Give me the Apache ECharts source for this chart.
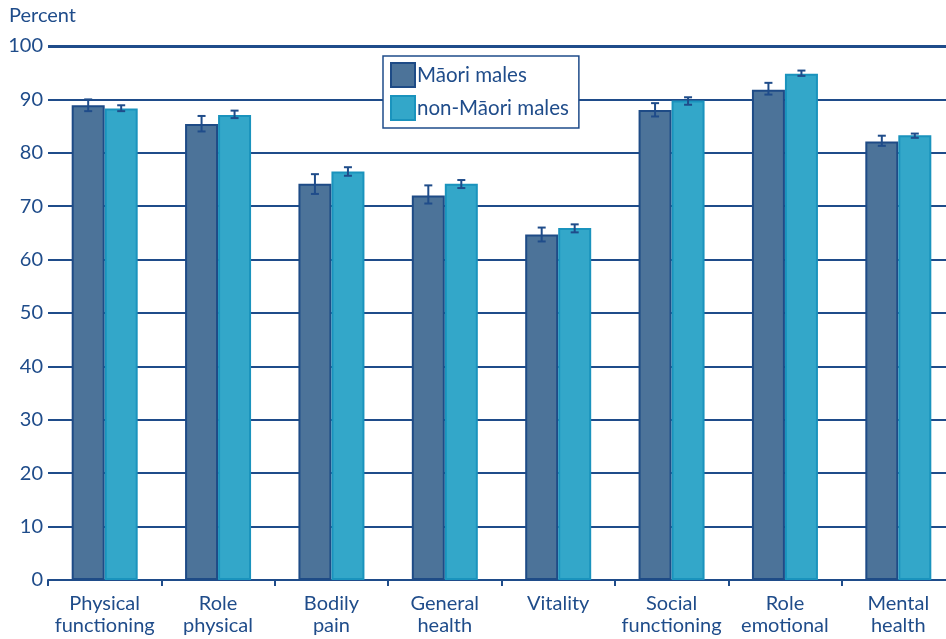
<!DOCTYPE html>
<html>
<head>
<meta charset="utf-8">
<script src="https://cdn.jsdelivr.net/npm/echarts@6/dist/echarts.min.js"></script>
<style>
  html, body { margin: 0; padding: 0; background: #fff; overflow: hidden; }
  /* the plot area runs a few pixels past the right edge of the page */
  #chart { width: 955px; height: 639px; }
</style>
</head>
<body>
<div id="chart"></div>
<script>
// SF-36 health domain scores, mean with 95% confidence interval
const categories = ['Physical\nfunctioning', 'Role\nphysical', 'Bodily\npain', 'General\nhealth',
                    'Vitality', 'Social\nfunctioning', 'Role\nemotional', 'Mental\nhealth'];
const maoriMean  = [88.9, 85.4, 74.2, 72.0, 64.7, 88.0, 91.8, 82.1];
const maoriLow   = [87.8, 84.0, 72.3, 70.5, 63.4, 86.8, 90.9, 81.3];
const maoriHigh  = [90.0, 86.9, 76.0, 73.9, 66.0, 89.3, 93.1, 83.2];
const otherMean  = [88.3, 87.1, 76.5, 74.2, 65.9, 89.8, 94.8, 83.3];
const otherLow   = [87.8, 86.5, 75.7, 73.4, 65.1, 89.0, 94.4, 82.8];
const otherHigh  = [88.9, 87.9, 77.3, 74.9, 66.6, 90.4, 95.4, 83.6];
const yTicks = [0, 10, 20, 30, 40, 50, 60, 70, 80, 90, 100];

const INK = '#1f4c8a';
const FONT = 'Lato, "Noto Sans", sans-serif';
const BAR_W = 33;

function errorItems(low, high) {
  return categories.map((c, i) => [i, low[i], high[i]]);
}

function errorRenderer(offset) {
  return function (params, api) {
    const i = api.value(0);
    const lo = api.coord([i, api.value(1)]);
    const hi = api.coord([i, api.value(2)]);
    const x = lo[0] + offset;
    const cap = 4;
    const style = { stroke: INK, lineWidth: 2 };
    return {
      type: 'group',
      children: [
        { type: 'line', shape: { x1: x, y1: lo[1], x2: x, y2: hi[1] }, style },
        { type: 'line', shape: { x1: x - cap, y1: lo[1], x2: x + cap, y2: lo[1] }, style },
        { type: 'line', shape: { x1: x - cap, y1: hi[1], x2: x + cap, y2: hi[1] }, style }
      ]
    };
  };
}

const chart = echarts.init(document.getElementById('chart'));
chart.setOption({
  animation: false,
  textStyle: { fontFamily: FONT, color: INK },
  graphic: [{
    type: 'text', left: 9, top: 6,
    style: { text: 'Percent', font: '20px ' + FONT, fill: INK }
  }],
  legend: {
    orient: 'vertical',
    left: 383, top: 56,
    padding: [6, 10, 7, 7],
    backgroundColor: '#fff',
    borderColor: INK, borderWidth: 1.5,
    itemWidth: 24, itemHeight: 24, itemGap: 7,
    icon: 'rect',
    textStyle: { fontSize: 20.5, color: INK, fontFamily: FONT, padding: [0, 0, 0, -3] },
    data: ['Māori males', 'non-Māori males']
  },
  grid: { left: 48, right: 0, top: 46, height: 534 },
  xAxis: {
    type: 'category',
    data: categories,
    axisLine: { lineStyle: { color: INK, width: 2 } },
    axisTick: { show: true, length: 6, lineStyle: { color: INK, width: 2 } },
    axisLabel: {
      interval: 0, color: INK, fontSize: 20, lineHeight: 22, margin: 13, fontFamily: FONT
    }
  },
  yAxis: {
    type: 'value',
    min: 0, max: 100, interval: 10,
    axisLine: { show: false },
    axisTick: { show: false },
    axisLabel: {
      color: INK, fontSize: 20, margin: 5, fontFamily: FONT,
      formatter: v => yTicks.includes(v) ? String(v) : ''
    },
    splitLine: { lineStyle: { color: INK, width: 2 } }
  },
  series: [
    {
      name: 'Māori males', type: 'bar', data: maoriMean,
      barWidth: BAR_W, barGap: '0%', z: 2,
      itemStyle: { color: '#4c7399', borderColor: '#1e4b86', borderWidth: 2 },
      markLine: {
        silent: true, symbol: 'none', label: { show: false },
        lineStyle: { color: INK, width: 3, type: 'solid' },
        data: [{ yAxis: 100 }]
      }
    },
    {
      name: 'non-Māori males', type: 'bar', data: otherMean,
      barWidth: BAR_W, z: 2,
      itemStyle: { color: '#33a7c9', borderColor: '#1a93bd', borderWidth: 2 }
    },
    {
      type: 'custom', z: 5, silent: true,
      renderItem: errorRenderer(-BAR_W / 2),
      encode: { x: 0, y: [1, 2] },
      data: errorItems(maoriLow, maoriHigh)
    },
    {
      type: 'custom', z: 5, silent: true,
      renderItem: errorRenderer(BAR_W / 2),
      encode: { x: 0, y: [1, 2] },
      data: errorItems(otherLow, otherHigh)
    }
  ]
});
</script>
</body>
</html>
